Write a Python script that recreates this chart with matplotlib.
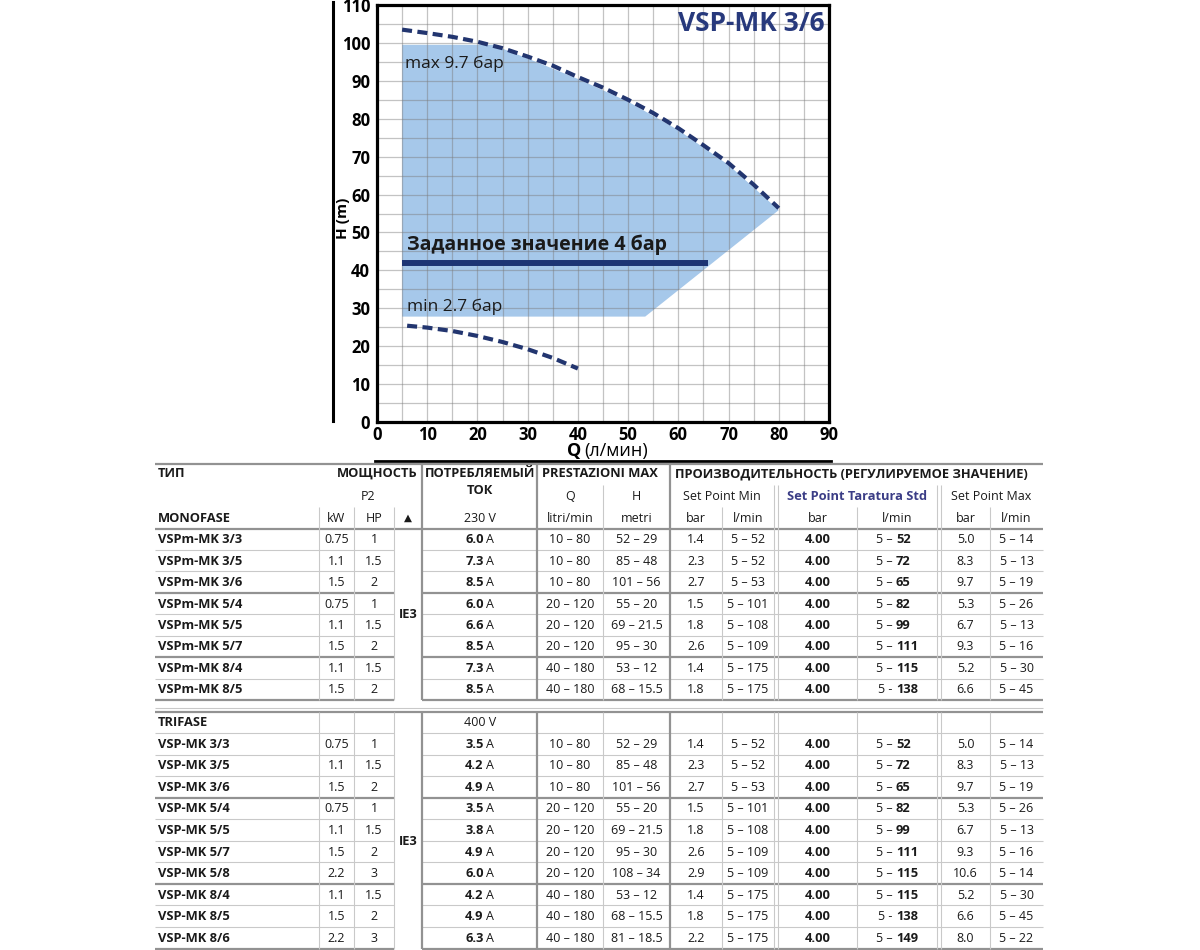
import matplotlib
matplotlib.use("Agg")
import matplotlib.pyplot as plt
from matplotlib import font_manager as fm
import numpy as np

# ---------------- data ----------------
max_q = [5, 10, 15, 20, 25, 30, 35, 40, 45, 50, 55, 60, 65, 70, 75, 80]
max_h = [103.5, 102.6, 101.6, 100.3, 98.6, 96.4, 94.0, 91.0, 88.2, 85.0, 81.5, 77.5, 73.0, 68.3, 62.6, 56.4]
min_q = [6, 10, 15, 20, 25, 30, 35, 40]
min_h = [25.4, 24.9, 24.0, 22.7, 21.1, 19.2, 16.9, 14.1]
region_q = [5, 5, 23, 30, 40, 50, 60, 70, 80, 53.4]
region_h = [27.8, 99.5, 99.5, 95.9, 90.5, 84.5, 77.0, 67.8, 55.9, 27.8]
setpoint_q = [5, 66]
setpoint_h = [41.9, 41.9]
chart_title = "VSP-MK 3/6"
label_max = "max 9.7 бар"
label_min = "min 2.7 бар"
label_set = "Заданное значение 4 бар"
x_ticks = list(range(0, 91, 10))
y_ticks = list(range(0, 111, 10))

mono_models = ["VSPm-MK 3/3", "VSPm-MK 3/5", "VSPm-MK 3/6", "VSPm-MK 5/4", "VSPm-MK 5/5",
               "VSPm-MK 5/7", "VSPm-MK 8/4", "VSPm-MK 8/5"]
mono_kw = ["0.75", "1.1", "1.5", "0.75", "1.1", "1.5", "1.1", "1.5"]
mono_hp = ["1", "1.5", "2", "1", "1.5", "2", "1.5", "2"]
mono_amp = ["6.0", "7.3", "8.5", "6.0", "6.6", "8.5", "7.3", "8.5"]
mono_q = ["10 – 80", "10 – 80", "10 – 80", "20 – 120", "20 – 120", "20 – 120", "40 – 180", "40 – 180"]
mono_h = ["52 – 29", "85 – 48", "101 – 56", "55 – 20", "69 – 21.5", "95 – 30", "53 – 12", "68 – 15.5"]
mono_min_bar = ["1.4", "2.3", "2.7", "1.5", "1.8", "2.6", "1.4", "1.8"]
mono_min_l = ["5 – 52", "5 – 52", "5 – 53", "5 – 101", "5 – 108", "5 – 109", "5 – 175", "5 – 175"]
mono_std_bar = ["4.00"] * 8
mono_std_l = ["5 – 52", "5 – 72", "5 – 65", "5 – 82", "5 – 99", "5 – 111", "5 – 115", "5 - 138"]
mono_max_bar = ["5.0", "8.3", "9.7", "5.3", "6.7", "9.3", "5.2", "6.6"]
mono_max_l = ["5 – 14", "5 – 13", "5 – 19", "5 – 26", "5 – 13", "5 – 16", "5 – 30", "5 – 45"]
mono_groups = [3, 3, 2]

tri_models = ["VSP-MK 3/3", "VSP-MK 3/5", "VSP-MK 3/6", "VSP-MK 5/4", "VSP-MK 5/5",
              "VSP-MK 5/7", "VSP-MK 5/8", "VSP-MK 8/4", "VSP-MK 8/5", "VSP-MK 8/6"]
tri_kw = ["0.75", "1.1", "1.5", "0.75", "1.1", "1.5", "2.2", "1.1", "1.5", "2.2"]
tri_hp = ["1", "1.5", "2", "1", "1.5", "2", "3", "1.5", "2", "3"]
tri_amp = ["3.5", "4.2", "4.9", "3.5", "3.8", "4.9", "6.0", "4.2", "4.9", "6.3"]
tri_q = ["10 – 80", "10 – 80", "10 – 80", "20 – 120", "20 – 120", "20 – 120", "20 – 120",
         "40 – 180", "40 – 180", "40 – 180"]
tri_h = ["52 – 29", "85 – 48", "101 – 56", "55 – 20", "69 – 21.5", "95 – 30", "108 – 34",
         "53 – 12", "68 – 15.5", "81 – 18.5"]
tri_min_bar = ["1.4", "2.3", "2.7", "1.5", "1.8", "2.6", "2.9", "1.4", "1.8", "2.2"]
tri_min_l = ["5 – 52", "5 – 52", "5 – 53", "5 – 101", "5 – 108", "5 – 109", "5 – 109",
             "5 – 175", "5 – 175", "5 – 175"]
tri_std_bar = ["4.00"] * 10
tri_std_l = ["5 – 52", "5 – 72", "5 – 65", "5 – 82", "5 – 99", "5 – 111", "5 – 115",
             "5 – 115", "5 - 138", "5 – 149"]
tri_max_bar = ["5.0", "8.3", "9.7", "5.3", "6.7", "9.3", "10.6", "5.2", "6.6", "8.0"]
tri_max_l = ["5 – 14", "5 – 13", "5 – 19", "5 – 26", "5 – 13", "5 – 16", "5 – 14",
             "5 – 30", "5 – 45", "5 – 22"]
tri_groups = [3, 4, 3]

hdr_top = ["ТИП", "МОЩНОСТЬ", "ПОТРЕБЛЯЕМЫЙ", "ТОК", "PRESTAZIONI MAX",
           "ПРОИЗВОДИТЕЛЬНОСТЬ (РЕГУЛИРУЕМОЕ ЗНАЧЕНИЕ)"]
hdr_mid = ["P2", "Q", "H", "Set Point Min", "Set Point Taratura Std", "Set Point Max"]
hdr_units = ["kW", "HP", "▲", "230 V", "litri/min", "metri", "bar", "l/min", "bar", "l/min", "bar", "l/min"]
section_mono = "MONOFASE"
section_tri = "TRIFASE"
tri_voltage = "400 V"
efficiency = "IE3"

# ---------------- fonts ----------------
names = {f.name for f in fm.fontManager.ttflist}
def pick(*cands):
    for c in cands:
        if c in names:
            return c
    return "DejaVu Sans"
NARROW = pick("Liberation Sans Narrow", "Open Sans")
BASE = pick("Open Sans", "Noto Sans")
plt.rcParams["font.family"] = [BASE, "DejaVu Sans"]
NAVY = "#22356f"
TXT = "#1a1a1a"

fig = plt.figure(figsize=(12, 9.5), dpi=100)
ov = fig.add_axes([0, 0, 1, 1])
ov.set_xlim(0, 1200)
ov.set_ylim(950, 0)
ov.axis("off")

# ---------------- chart ----------------
L, R, T, B = 377, 829, 5, 422
ax = fig.add_axes([L / 1200, (950 - B) / 950, (R - L) / 1200, (B - T) / 950])
ax.set_xlim(0, 90)
ax.set_ylim(0, 110)
ax.fill(region_q, region_h, color="#a6c8ea", lw=0, zorder=1)
ax.set_xticks(x_ticks)
ax.set_yticks(y_ticks)
ax.set_xticks(np.arange(5, 90, 10), minor=True)
ax.set_yticks(np.arange(5, 110, 10), minor=True)
ax.grid(True, which="both", color="#7a7a7a", alpha=0.45, lw=0.9, zorder=2)
ax.set_axisbelow(False)
for s in ax.spines.values():
    s.set_linewidth(2.3)
    s.set_color("black")
    s.set_zorder(6)
ax.tick_params(which="both", length=0)
ax.tick_params(axis="x", pad=3)
ax.tick_params(axis="y", pad=5)
for lab in ax.get_xticklabels() + ax.get_yticklabels():
    lab.set_fontfamily([NARROW, "DejaVu Sans"])
    lab.set_fontweight("bold")
    lab.set_fontsize(12)
    lab.set_fontstretch("condensed")

ax.plot(max_q, max_h, color=NAVY, lw=3.0, ls=(0, (2.4, 1.3)), zorder=4, dash_capstyle="butt")
ax.plot(min_q, min_h, color=NAVY, lw=3.0, ls=(0, (2.4, 1.3)), zorder=4, dash_capstyle="butt")
ax.plot(setpoint_q, setpoint_h, color="#1c3474", lw=4.3, solid_capstyle="butt", zorder=4)

ax.text(5.6, 94.6, label_max, fontsize=12.5, family=[NARROW, "DejaVu Sans"], color=TXT,
        va="center", ha="left", zorder=5)
ax.text(5.9, 30.3, label_min, fontsize=12.5, family=[NARROW, "DejaVu Sans"], color=TXT,
        va="center", ha="left", zorder=5)
ax.text(5.9, 46.7, label_set, fontsize=14, fontweight="bold", color=TXT,
        va="center", ha="left", zorder=5)
ax.text(89.2, 105.2, chart_title, fontsize=19, fontweight="bold", color="#27397c",
        va="center", ha="right", zorder=5)

ov.plot([333, 333], [2, 421], color="black", lw=2.2)
ov.text(343, 218, "H (m)", rotation=90, fontsize=11, fontweight="bold", ha="center",
        va="center", family=[NARROW, "DejaVu Sans"])
ov.text(581, 451, "Q", fontsize=13, fontweight="bold", ha="right", va="center",
        family=[NARROW, "DejaVu Sans"])
ov.text(584, 451, "(л/мин)", fontsize=13, ha="left", va="center",
        family=[NARROW, "DejaVu Sans"])
ov.plot([375, 831], [460.5, 460.5], color="black", lw=2.0)

# ---------------- table ----------------
FS = 9
FSB = 9.3
THIN = "#c9c9c9"
THICK = "#929292"
X0, X1 = 155, 1043
TRI_L, TRI_R = 394, 422

def hl(y, x0, x1, thick=False):
    ov.plot([x0, x1], [y, y], color=THICK if thick else THIN, lw=1.6 if thick else 0.8,
            solid_capstyle="butt")

def vl(x, y0, y1, thick=False):
    ov.plot([x, x], [y0, y1], color=THICK if thick else THIN, lw=1.6 if thick else 0.8,
            solid_capstyle="butt")

def t(x, y, s, ha="center", bold=False, color=TXT, size=None):
    if size is None:
        size = FSB if bold else FS
    ov.text(x, y, s, ha=ha, va="center", fontsize=size, fontweight="bold" if bold else "normal",
            color=color)

vx = [319, 354, 394, 422, 537, 603, 670, 722, 774, 778, 857, 937, 941, 990]
vtop = [507, 507, 507, 463.5, 463.5, 485, 463.5, 507, 485, 485, 507, 485, 485, 507]
vthick = [False, False, False, True, True, False, True, False, False, False, False, False, False, False]
cx = {"kw": 336.5, "hp": 374, "tri": 408, "amp": 480, "q": 570, "h": 636.5, "minb": 696,
      "minl": 748, "stdb": 817.5, "stdl": 897, "maxb": 965.5, "maxl": 1016.5}

# header
hl(463.5, X0, X1, thick=True)
t(158, 473.5, hdr_top[0], ha="left", bold=True)
t(418, 473.5, hdr_top[1], ha="right", bold=True)
t(480, 473.5, hdr_top[2], bold=True)
t(480, 490, hdr_top[3], bold=True)
t(600, 473.5, hdr_top[4], bold=True)
t(851, 473.5, hdr_top[5], bold=True)
t(368, 496.5, hdr_mid[0])
t(cx["q"], 496.5, hdr_mid[1])
t(cx["h"], 496.5, hdr_mid[2])
t(722, 496.5, hdr_mid[3])
t(857, 496.5, hdr_mid[4], bold=True, color="#3b3d86")
t(991, 496.5, hdr_mid[5])
t(158, 518, section_mono, ha="left", bold=True)
for key, s in zip(["kw", "hp", "tri", "amp", "q", "h", "minb", "minl", "stdb", "stdl", "maxb", "maxl"],
                  hdr_units):
    if s == "▲":
        ov.text(cx[key], 518, s, ha="center", va="center", fontsize=7.5, family="DejaVu Sans", color=TXT)
    else:
        t(cx[key], 518, s)

def draw_rows(top, rh, models, kw, hp, amp, q, h, minb, minl, stdb, stdl, maxb, maxl, groups):
    n = len(models)
    bounds = set(np.cumsum(groups).tolist())
    for i in range(n):
        yc = top + rh * (i + 0.5) + 0.5
        yb = top + rh * (i + 1)
        thick = (i + 1) in bounds
        hl(yb, X0, TRI_L, thick)
        hl(yb, TRI_R, X1, thick)
        t(158, yc, models[i], ha="left", bold=True)
        t(cx["kw"], yc, kw[i])
        t(cx["hp"], yc, hp[i])
        t(483.5, yc, amp[i], ha="right", bold=True)
        t(486.5, yc, "A", ha="left")
        t(cx["q"], yc, q[i])
        t(cx["h"], yc, h[i])
        t(cx["minb"], yc, minb[i])
        t(cx["minl"], yc, minl[i])
        t(cx["stdb"], yc, stdb[i], bold=True)
        pre, num = stdl[i].rsplit(" ", 1)
        t(896, yc, pre + " ", ha="right")
        t(896, yc, num, ha="left", bold=True)
        t(cx["maxb"], yc, maxb[i])
        t(cx["maxl"], yc, maxl[i])
    t(cx["tri"], top + rh * n / 2 + 0.5, efficiency, bold=True)
    return top + rh * n

hl(528.5, X0, X1, thick=True)
mono_bottom = draw_rows(528.5, 21.45, mono_models, mono_kw, mono_hp, mono_amp, mono_q, mono_h,
                        mono_min_bar, mono_min_l, mono_std_bar, mono_std_l, mono_max_bar, mono_max_l,
                        mono_groups)
for x, y0, th in zip(vx, vtop, vthick):
    vl(x, y0, mono_bottom, th)

hl(708, X0, X1)
hl(711.5, X0, X1, thick=True)
tri_top = 733
t(158, 722, section_tri, ha="left", bold=True)
t(480, 722, tri_voltage)
hl(tri_top, X0, TRI_L)
hl(tri_top, TRI_R, X1)
tri_bottom = draw_rows(tri_top, 21.55, tri_models, tri_kw, tri_hp, tri_amp, tri_q, tri_h,
                       tri_min_bar, tri_min_l, tri_std_bar, tri_std_l, tri_max_bar, tri_max_l,
                       tri_groups)
for x, th in zip(vx, vthick):
    vl(x, 711.5, tri_bottom, th)

fig.savefig("out.png", dpi=100)
